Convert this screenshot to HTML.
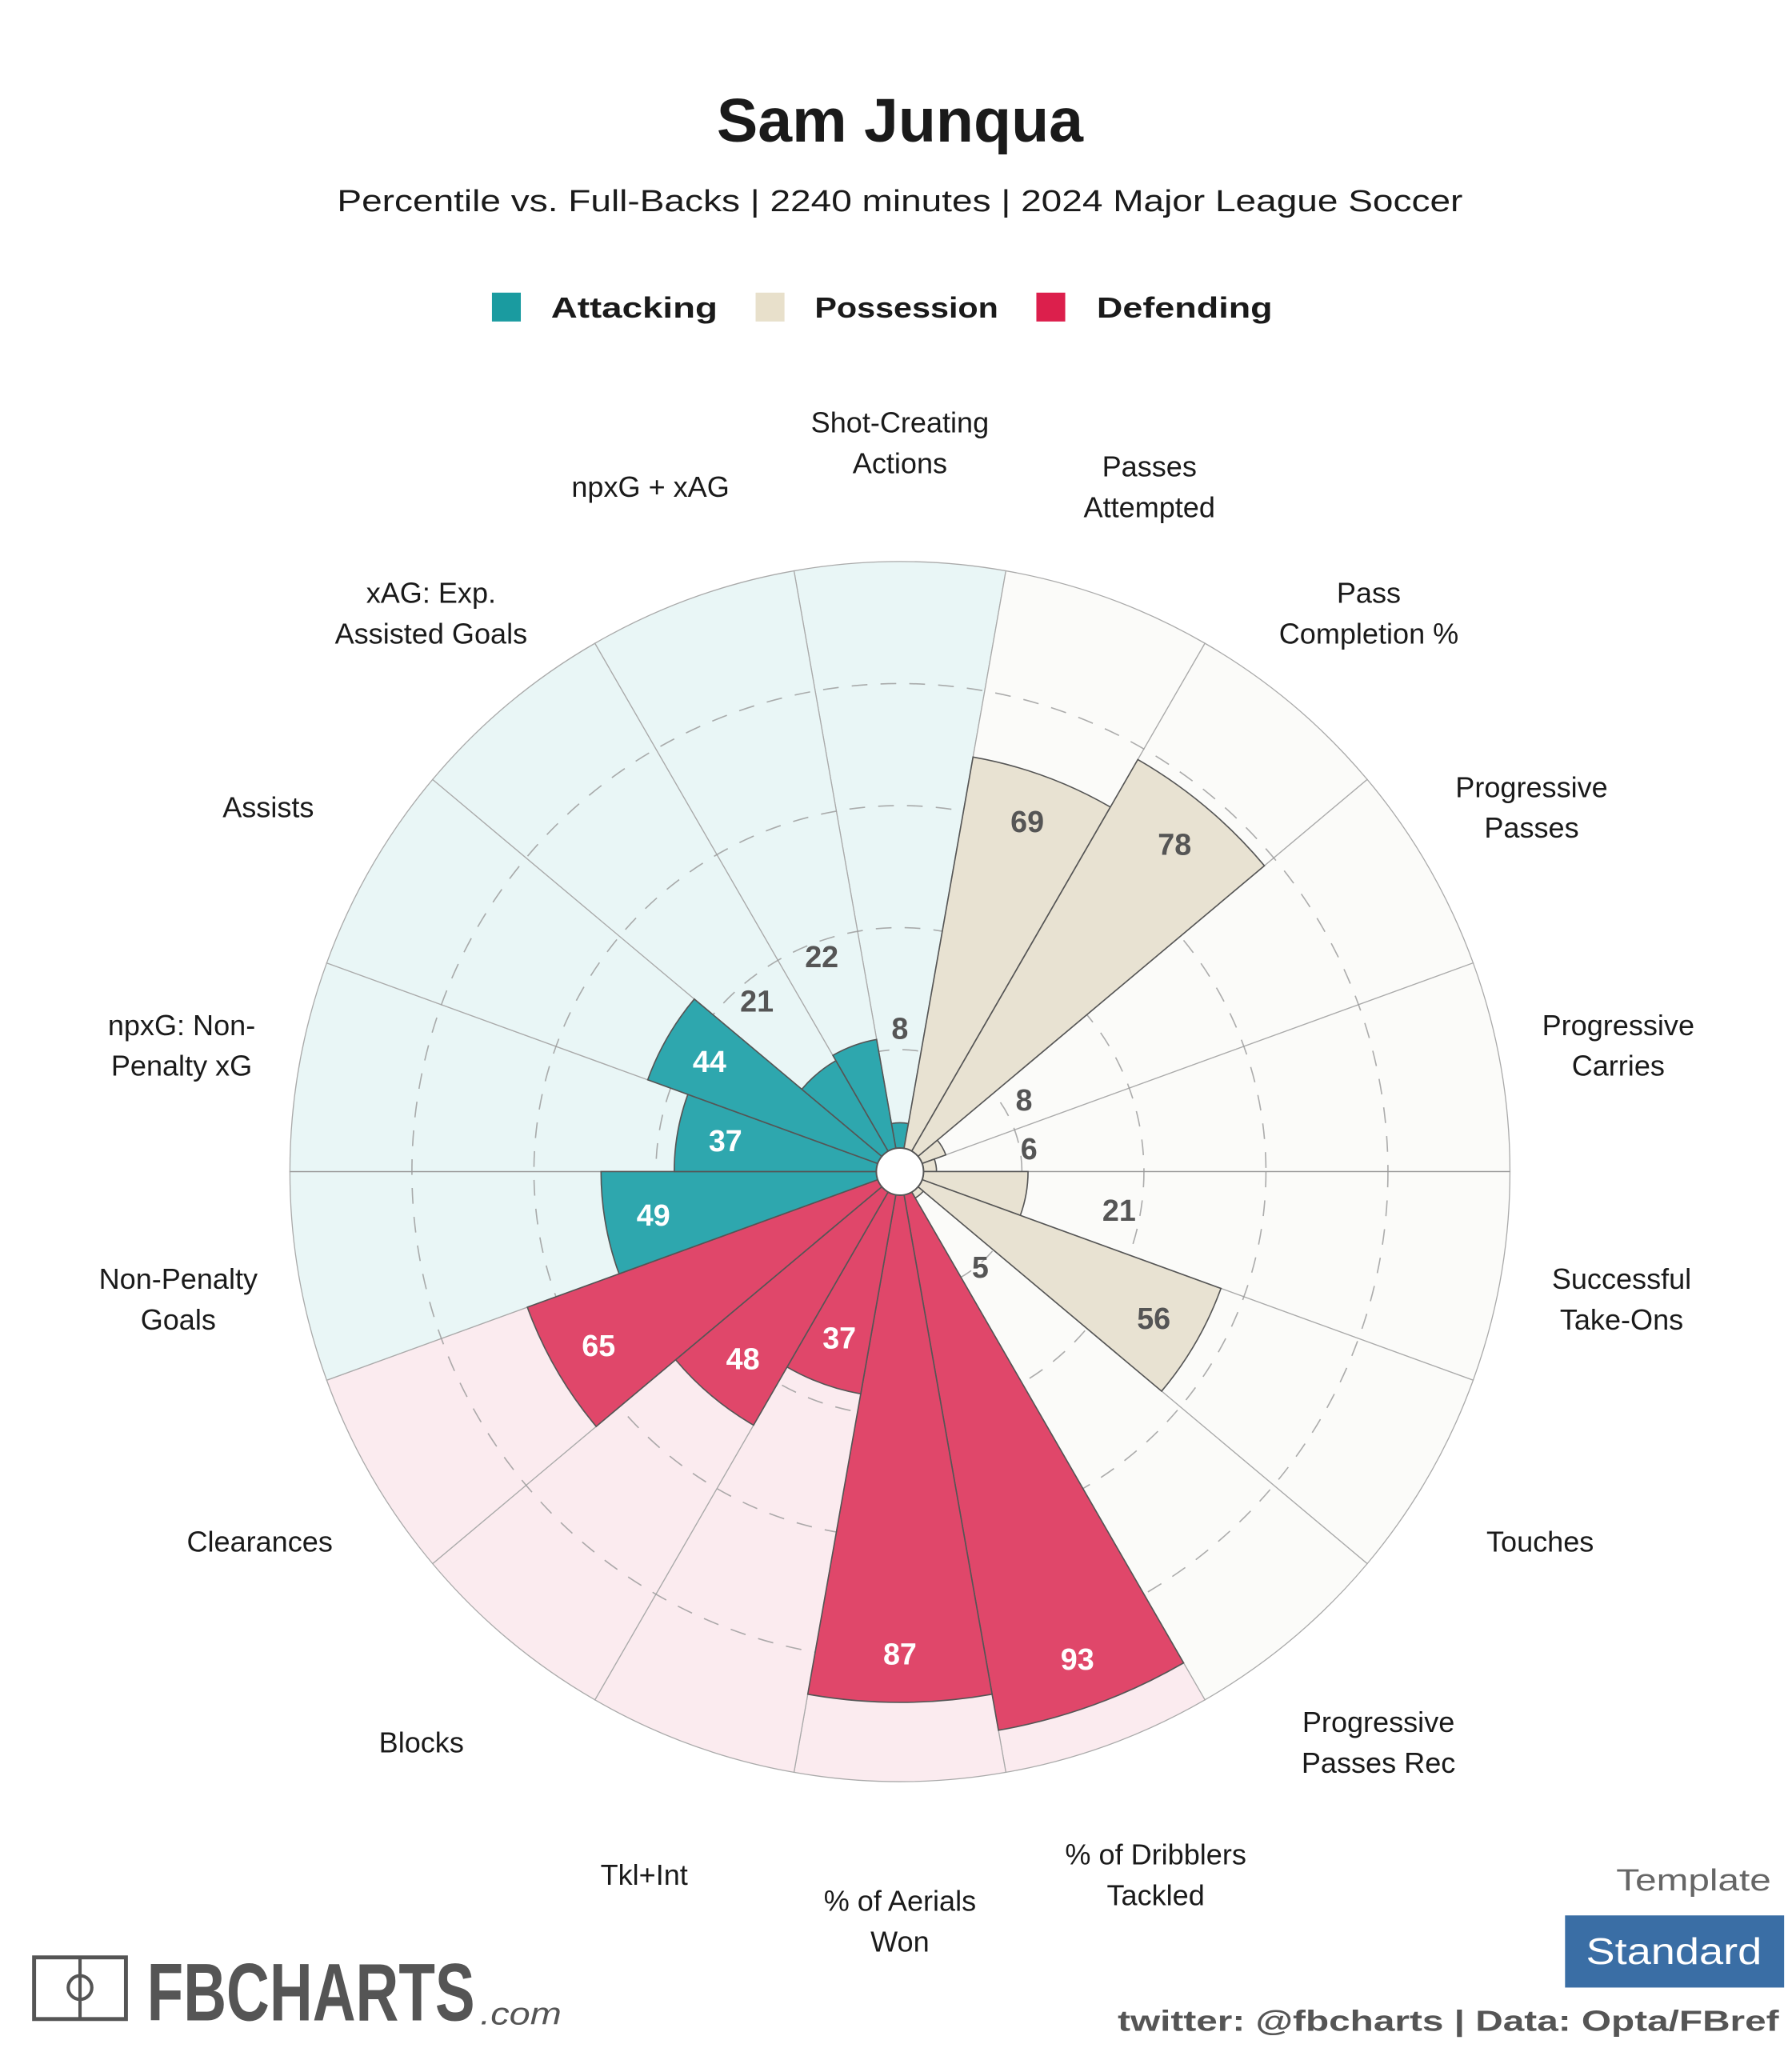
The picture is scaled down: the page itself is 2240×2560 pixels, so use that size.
<!DOCTYPE html>
<html><head><meta charset="utf-8">
<style>
html,body{margin:0;padding:0;background:#fff;}
svg{display:block;}
text{font-family:"Liberation Sans","DejaVu Sans",sans-serif;}
</style></head>
<body>
<svg id="chart" width="2240" height="2560" viewBox="0 0 1366 1561" xmlns="http://www.w3.org/2000/svg">
  <rect width="1366" height="1561" fill="#fff"/>
  <text x="686" y="108" text-anchor="middle" font-size="47" font-weight="bold" fill="#1a1a1a">Sam Junqua</text>
  <text x="686" y="161" text-anchor="middle" font-size="23" fill="#1a1a1a" font-family="DejaVu Sans, sans-serif" textLength="858" lengthAdjust="spacingAndGlyphs">Percentile vs. Full-Backs | 2240 minutes | 2024 Major League Soccer</text>

  <g>
    <rect x="375" y="223" width="22" height="22" fill="#1a9ba0"/>
    <text x="420" y="242" font-size="22" font-weight="bold" fill="#1a1a1a" font-family="DejaVu Sans, sans-serif" textLength="127" lengthAdjust="spacingAndGlyphs">Attacking</text>
    <rect x="576" y="223" width="22" height="22" fill="#e8e0cb"/>
    <text x="621" y="242" font-size="22" font-weight="bold" fill="#1a1a1a" font-family="DejaVu Sans, sans-serif" textLength="140" lengthAdjust="spacingAndGlyphs">Possession</text>
    <rect x="790" y="223" width="22" height="22" fill="#dc1f4c"/>
    <text x="836" y="242" font-size="22" font-weight="bold" fill="#1a1a1a" font-family="DejaVu Sans, sans-serif" textLength="134" lengthAdjust="spacingAndGlyphs">Defending</text>
  </g>

  <g id="bg"></g>
  <g id="rings"></g>
  <g id="bars"></g>
  <g id="vals"></g>
  <g id="cats"></g>

  <g>
    <rect x="26" y="1492" width="70" height="47" fill="none" stroke="#555" stroke-width="3"/>
    <line x1="61" y1="1492" x2="61" y2="1539" stroke="#555" stroke-width="2.5"/>
    <circle cx="61" cy="1515" r="9" fill="none" stroke="#555" stroke-width="2.5"/>
    <text x="112" y="1540" font-size="62" font-weight="bold" fill="#555" font-family="DejaVu Sans Condensed, DejaVu Sans, sans-serif" textLength="250" lengthAdjust="spacingAndGlyphs">FBCHARTS</text>
    <text x="366" y="1543" font-size="24" font-style="italic" fill="#555" font-family="DejaVu Sans, sans-serif" textLength="62" lengthAdjust="spacingAndGlyphs">.com</text>
  </g>
  <text x="1350" y="1441" text-anchor="end" font-size="23" fill="#666" font-family="DejaVu Sans, sans-serif" textLength="118" lengthAdjust="spacingAndGlyphs">Template</text>
  <rect x="1193" y="1460" width="167" height="55" fill="#3a6ea5"/>
  <text x="1276" y="1497" text-anchor="middle" font-size="28" fill="#fff" font-family="DejaVu Sans, sans-serif" textLength="134" lengthAdjust="spacingAndGlyphs">Standard</text>
  <text x="1356" y="1548" text-anchor="end" font-size="22" font-weight="bold" fill="#555" font-family="DejaVu Sans Mono, monospace" textLength="504" lengthAdjust="spacingAndGlyphs">twitter: @fbcharts | Data: Opta/FBref</text>
</svg>
<script>
const categories = ["Shot-Creating|Actions","Passes|Attempted","Pass|Completion %","Progressive|Passes","Progressive|Carries","Successful|Take-Ons","Touches","Progressive|Passes Rec","% of Dribblers|Tackled","% of Aerials|Won","Tkl+Int","Blocks","Clearances","Non-Penalty|Goals","npxG: Non-|Penalty xG","Assists","xAG: Exp.|Assisted Goals","npxG + xAG"];
const values = [8,69,78,8,6,21,56,5,93,87,37,48,65,49,37,44,21,22];
const groups = ["att","pos","pos","pos","pos","pos","pos","pos","def","def","def","def","def","att","att","att","att","att"];
const ringTicks = [20,40,60,80];

const NS="http://www.w3.org/2000/svg";
const CX=686, CY=893, R=465, HOLE=18;
const barFill={att:"#2ea7ae",pos:"#e8e2d2",def:"#e0476a"};
const bgFill={att:"#e9f6f6",pos:"#fbfbf9",def:"#fbebef"};
const n=categories.length, step=360/n;
function rScale(v){return v/100*R;}
function pt(r,deg){const a=deg*Math.PI/180;return [CX+r*Math.cos(a),CY-r*Math.sin(a)];}
function wedge(r0,r1,a0,a1){
  const p1=pt(r1,a0),p2=pt(r1,a1),p3=pt(r0,a1),p4=pt(r0,a0);
  return `M${p4[0]},${p4[1]} L${p1[0]},${p1[1]} A${r1},${r1} 0 0 1 ${p2[0]},${p2[1]} L${p3[0]},${p3[1]} A${r0},${r0} 0 0 0 ${p4[0]},${p4[1]} Z`;
}
function mk(tag,attrs,parent){const e=document.createElementNS(NS,tag);for(const k in attrs)e.setAttribute(k,attrs[k]);parent.appendChild(e);return e;}
const gBg=document.getElementById('bg'),gR=document.getElementById('rings'),gB=document.getElementById('bars'),gV=document.getElementById('vals'),gC=document.getElementById('cats');

for(let i=0;i<n;i++){
  const c=90-step*i, a0=c+step/2, a1=c-step/2;
  const bg=mk('path',{d:wedge(0,R,a0,a1),fill:bgFill[groups[i]],stroke:"#aaa","stroke-width":0.8},gBg);
  
  
}
const hz=mk('line',{x1:CX-R,y1:CY,x2:CX+R,y2:CY,stroke:"#999","stroke-width":0.8},gBg);


ringTicks.forEach(t=>{
  const c=mk('circle',{cx:CX,cy:CY,r:rScale(t),fill:"none",stroke:"#999","stroke-width":1,"stroke-dasharray":"12 10",opacity:0.8},gR);
  
  
});
for(let i=0;i<n;i++){
  const c=90-step*i, a0=c+step/2, a1=c-step/2, g=groups[i], v=values[i];
  const b=mk('path',{d:wedge(0,rScale(v),a0,a1),fill:barFill[g],stroke:"#555","stroke-width":1},gB);
  
  
  const inside=v>=30;
  const lr=inside?rScale(v)-37:rScale(v)+72;
  const p=pt(lr,c);
  const t=mk('text',{x:p[0],y:p[1]+8,"text-anchor":"middle","font-size":23,"font-weight":"bold",fill:(inside&&g!=="pos")?"#fff":"#555","font-family":"DejaVu Sans, sans-serif"},gV);
  t.textContent=v;
  
  
  const s=Math.sin(c*Math.PI/180);
  const cr=556+15*Math.max(0,-s);
  const q=pt(cr,c);
  const lines=categories[i].split('|');
  const lt=mk('text',{x:q[0],y:q[1],"text-anchor":"middle","font-size":22,fill:"#1a1a1a"},gC);
  
  
  lines.forEach((ln,k)=>{
    const ts=mk('tspan',{x:q[0],y:q[1]+8+(k-(lines.length-1)/2)*31},lt);
    ts.textContent=ln;
  });
}
const hole=mk('circle',{cx:CX,cy:CY,r:HOLE,fill:"#fff",stroke:"#555","stroke-width":1.2},gV);


</script>
</body></html>
